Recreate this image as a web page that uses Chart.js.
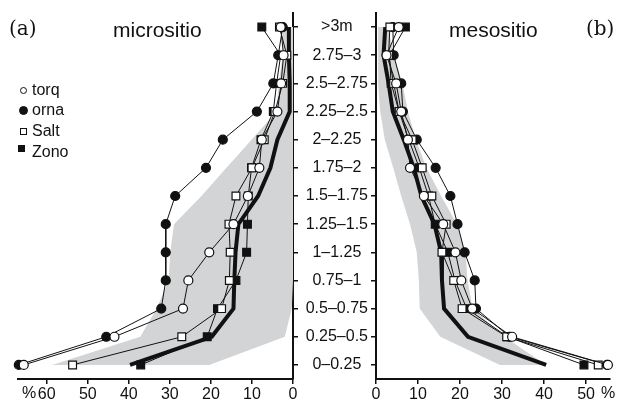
<!DOCTYPE html>
<html>
<head>
<meta charset="utf-8">
<script src="https://cdn.jsdelivr.net/npm/chart.js@4.4.1/dist/chart.umd.min.js"></script>
<style>
  body { margin: 0; background: #fff; }
  #wrap { position: relative; width: 617px; height: 400px; font-family: "Liberation Sans", Arial, sans-serif; color: #111; }
  .box { position: absolute; top: 0; height: 400px; }
  .txt { position: absolute; white-space: nowrap; line-height: 1; }
  .title { font-size: 21px; top: 19px; }
  .tag { font-family: "DejaVu Serif", serif; font-size: 20px; top: 18px; }
  .leg { font-size: 16px; left: 32px; }
  .pct { font-size: 16px; top: 385px; }
  .mk { position: absolute; box-sizing: border-box; border: 1.2px solid #111; }
</style>
</head>
<body>
<div id="wrap">
  <div class="box" style="left:0; width:300px;"><canvas id="micro"></canvas></div>
  <div class="box" style="left:296px; width:321px;"><canvas id="meso"></canvas></div>

  <div class="txt tag" style="left:9px;">(a)</div>
  <div class="txt tag" style="left:586px;">(b)</div>
  <div class="txt title" style="left:113px;">micrositio</div>
  <div class="txt title" style="left:449px;">mesositio</div>

  <span class="mk" style="left:19.5px; top:86.5px; width:7px; height:7px; border-radius:50%; background:#fff;"></span>
  <span class="mk" style="left:18.5px; top:105.5px; width:9px; height:9px; border-radius:50%; background:#111;"></span>
  <span class="mk" style="left:19.5px; top:127.5px; width:7px; height:7px; background:#fff;"></span>
  <span class="mk" style="left:18px; top:144.5px; width:7px; height:7px; background:#111;"></span>
  <div class="txt leg" style="top:81.5px;">torq</div>
  <div class="txt leg" style="top:101.5px;">orna</div>
  <div class="txt leg" style="top:122.5px;">Salt</div>
  <div class="txt leg" style="top:143.5px;">Zono</div>

  <div class="txt pct" style="left:22px;">%</div>
  <div class="txt pct" style="left:601px;">%</div>
</div>

<script>
// depth classes, top of the profile first
const depthLabels = ['>3m', '2.75–3', '2.5–2.75', '2.25–2.5', '2–2.25', '1.75–2', '1.5–1.75',
  '1.25–1.5', '1–1.25', '0.75–1', '0.5–0.75', '0.25–0.5', '0–0.25'];
const xTicks = [0, 10, 20, 30, 40, 50, 60];

// micrositio (%)
const microTorq = [3.0, 2.3, 2.9, 3.8, 7.6, 8.2, 11.0, 14.5, 20.4, 25.5, 26.8, 43.5, 65.6];
const microOrna = [2.5, 3.6, 4.8, 8.8, 17.1, 21.2, 28.7, 31.0, 31.0, 31.0, 32.1, 45.5, 66.8];
const microSalt = [3.3, 1.5, 2.5, 4.4, 7.0, 10.0, 13.9, 15.6, 15.3, 15.5, 17.4, 27.1, 53.7];
const microZono = [7.6, 3.0, 4.0, 4.8, 7.8, 10.1, 10.9, 11.1, 11.3, 13.9, 18.4, 20.9, 37.1];
const microAvail = [1.0, 1.0, 0.8, 0.8, 3.8, 5.5, 8.5, 13.3, 14.0, 14.3, 14.5, 19.8, 39.7];
const microHigh = [2.5, 2.5, 3.5, 4.0, 10.1, 16.2, 22.3, 29.0, 29.9, 30.3, 33.2, 37.2, 58.7];
const microLow = [0, 0, 0, 0, 0, 0, 0, 0, 0, 0, 0.3, 2.0, 20.4];

// mesositio (%)
const mesoTorq = [5.4, 2.5, 4.8, 6.0, 7.6, 8.1, 11.4, 16.0, 18.9, 20.3, 22.9, 32.4, 55.2];
const mesoOrna = [4.0, 4.2, 6.0, 6.4, 9.7, 14.2, 17.7, 19.4, 21.1, 23.5, 23.8, 31.8, 55.0];
const mesoSalt = [3.3, 3.0, 4.2, 5.5, 8.6, 11.0, 13.3, 16.7, 15.7, 18.5, 20.5, 31.1, 52.9];
const mesoZono = [7.0, 3.2, 3.6, 5.5, 7.8, 10.3, 12.5, 14.1, 17.1, 18.8, 21.6, 31.3, 49.5];
const mesoAvail = [2.2, 1.8, 3.0, 4.0, 6.6, 9.0, 10.8, 13.9, 15.5, 15.7, 16.2, 21.9, 40.5];
const mesoHigh = [2.8, 4.3, 6.3, 7.6, 9.5, 12.0, 15.5, 19.3, 21.3, 21.8, 23.0, 30.5, 40.5];
const mesoLow = [0.5, 0.5, 0.5, 1.0, 2.1, 4.1, 6.0, 8.1, 9.7, 10.2, 10.4, 15.3, 29.5];

const INK = '#111';
const GREY = '#d3d4d6';

function marker(label, data, shape, filled) {
  return {
    label, data,
    borderColor: INK, borderWidth: 1,
    pointStyle: shape,
    pointRadius: shape === 'rect' ? 5.5 : 4.5,
    pointBackgroundColor: filled ? INK : '#fff',
    pointBorderColor: INK, pointBorderWidth: 1.2,
    fill: false, clip: false
  };
}

function datasets(torq, orna, salt, zono, avail, high, low) {
  return [
    marker('torq', torq, 'circle', false),
    marker('Salt', salt, 'rect', false),
    marker('orna', orna, 'circle', true),
    marker('Zono', zono, 'rect', true),
    { label: 'disp', data: avail, borderColor: INK, borderWidth: 4, pointRadius: 0, fill: false, clip: false },
    { label: 'max', data: high, borderWidth: 0, pointRadius: 0, backgroundColor: GREY, fill: '+1' },
    { label: 'min', data: low, borderWidth: 0, pointRadius: 0, fill: false }
  ];
}

function axisStyle() {
  return {
    grid: { display: true, drawOnChartArea: false, drawTicks: true, tickLength: 5, color: INK, lineWidth: 1.5 },
    border: { display: true, color: INK, width: 2 }
  };
}

function buildChart(id, data, mirrored, xMax) {
  const xAxis = Object.assign(axisStyle(), {
    type: 'linear', min: 0, max: xMax, reverse: mirrored,
    afterBuildTicks: axis => { axis.ticks = xTicks.filter(v => v <= xMax).map(v => ({ value: v })); },
    ticks: { includeBounds: false, color: INK, padding: 1, maxRotation: 0,
      font: { family: '"Liberation Sans", Arial, sans-serif', size: 16 } },
    afterFit: axis => { axis.height = 21; }
  });
  const yAxis = Object.assign(axisStyle(), {
    type: 'category', offset: true,
    position: mirrored ? 'right' : 'left',
    ticks: mirrored ? { display: false } : {
      color: INK, padding: 3, crossAlign: 'center',
      font: { family: '"Liberation Sans", Arial, sans-serif', size: 16 }
    },
    afterFit: axis => { axis.width = mirrored ? 7 : 80; }
  });
  return new Chart(document.getElementById(id), {
    type: 'line',
    data: { labels: depthLabels, datasets: data },
    options: {
      indexAxis: 'y',
      responsive: true,
      maintainAspectRatio: false,
      animation: false,
      elements: { line: { tension: 0 } },
      layout: { padding: mirrored ? { left: 18, top: 13, right: 0, bottom: 0 } : { left: 0, top: 13, right: 7, bottom: 0 } },
      scales: { x: xAxis, y: yAxis },
      plugins: { legend: { display: false }, tooltip: { enabled: false } }
    }
  });
}

buildChart('micro', datasets(microTorq, microOrna, microSalt, microZono, microAvail, microHigh, microLow), true, 67);
buildChart('meso', datasets(mesoTorq, mesoOrna, mesoSalt, mesoZono, mesoAvail, mesoHigh, mesoLow), false, 55.7);
</script>
</body>
</html>
